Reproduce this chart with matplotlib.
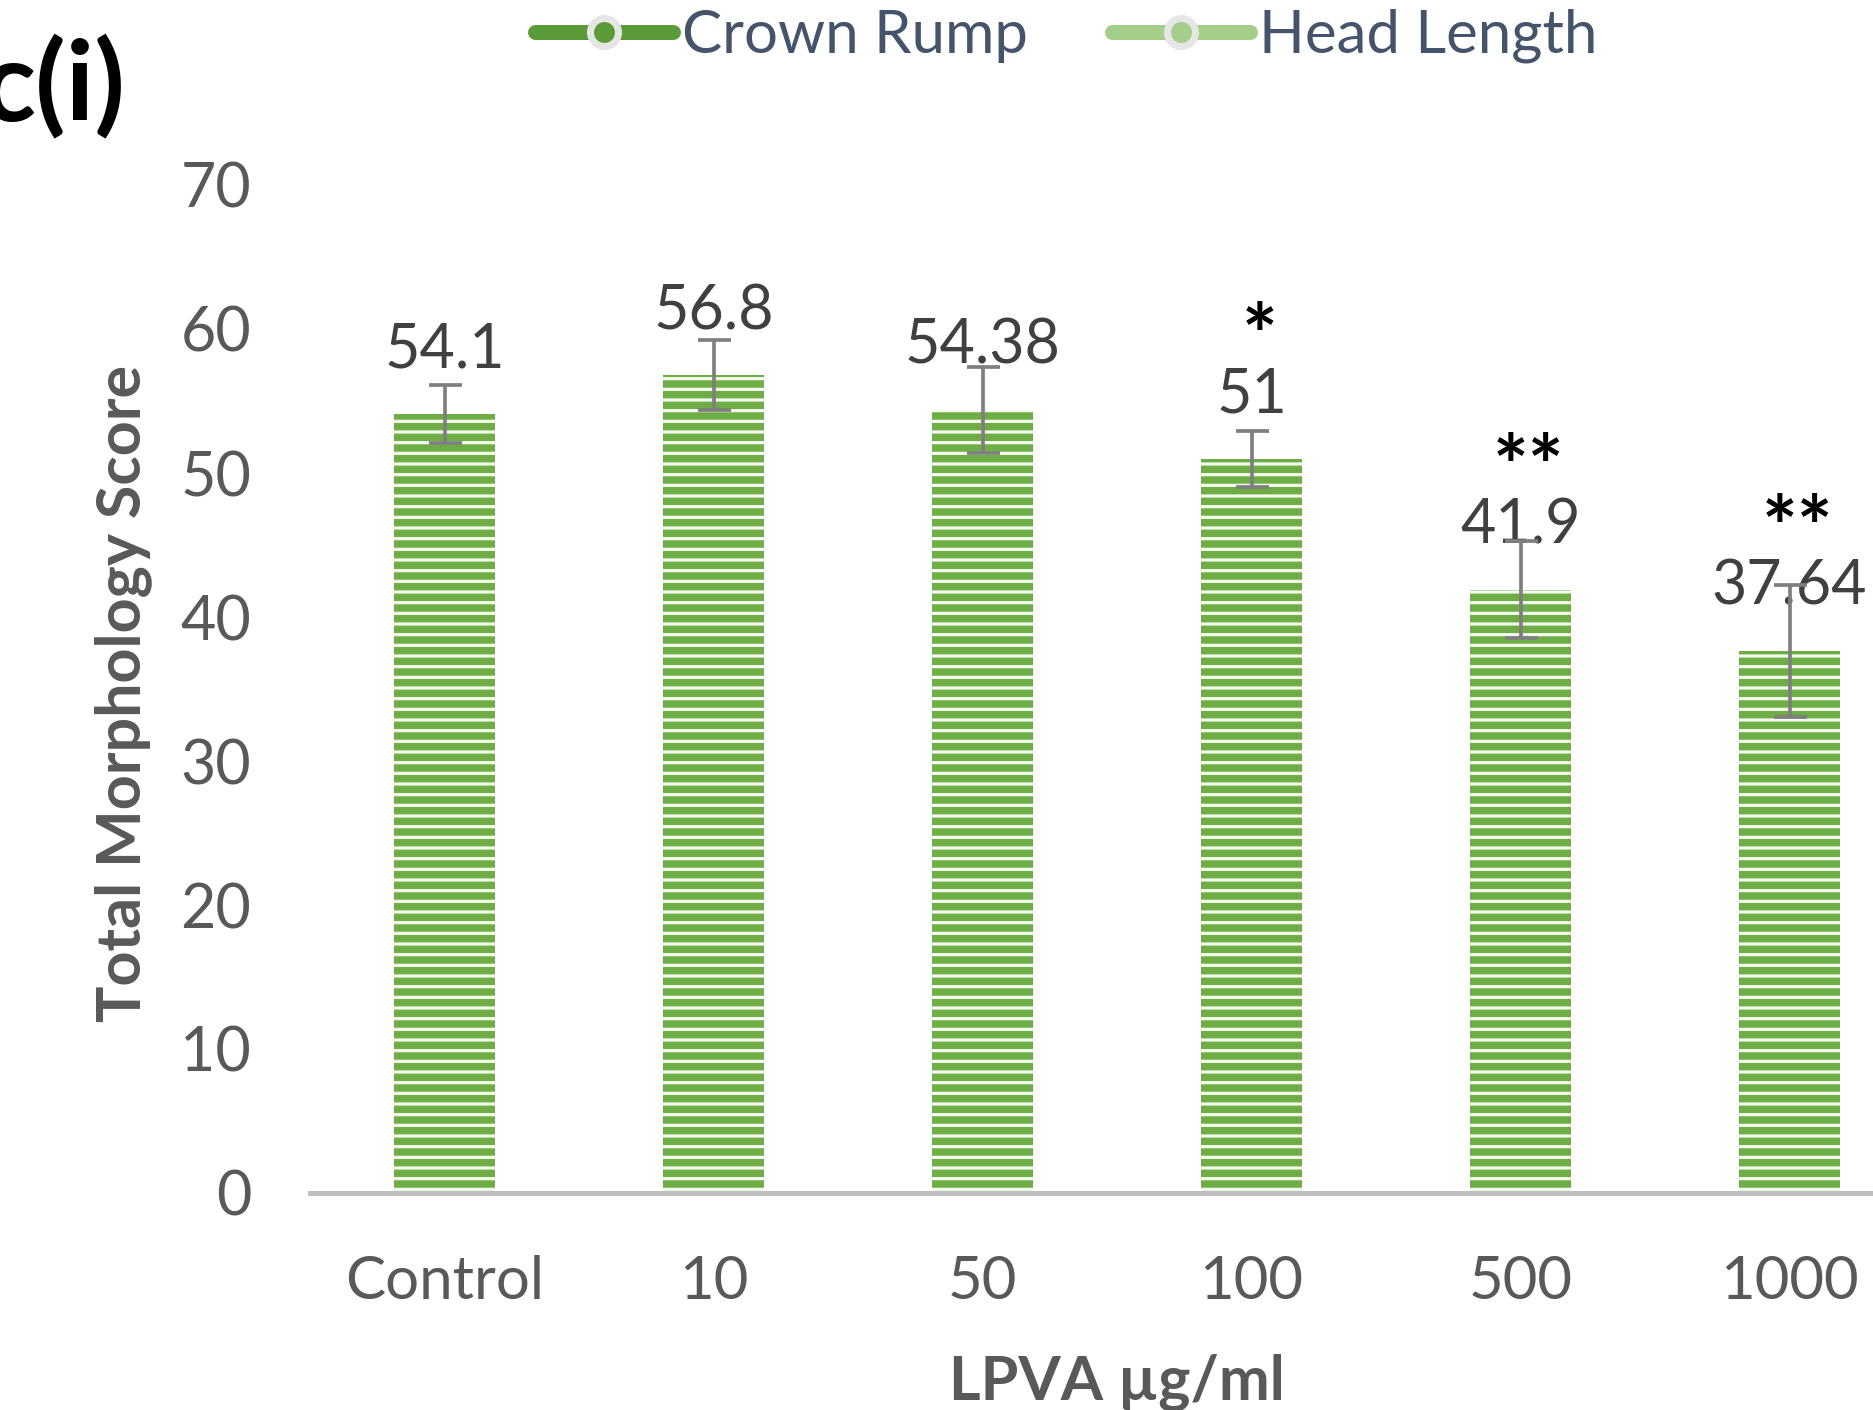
import matplotlib
matplotlib.use("Agg")
import matplotlib.pyplot as plt

# ---- data ----
categories = ["Control", "10", "50", "100", "500", "1000"]
scores = [54.1, 56.8, 54.38, 51, 41.9, 37.64]
score_labels = ["54.1", "56.8", "54.38", "51", "41.9", "37.64"]
errors = [2.0, 2.45, 3.0, 1.95, 3.35, 4.6]
stars = ["", "", "", "*", "**", "**"]
yticks = [0, 10, 20, 30, 40, 50, 60, 70]
legend_names = ["Crown Rump", "Head Length"]

# ---- styling ----
W, H = 1873, 1410
DPI = 128


def pt(px):
    return px * 72.0 / DPI


FAM = ["Lato", "DejaVu Sans"]
plt.rcParams["font.family"] = FAM
plt.rcParams["hatch.linewidth"] = pt(3.2)

fig = plt.figure(figsize=(W / DPI, H / DPI), dpi=DPI)
fig.patch.set_facecolor("white")

ax_left, ax_right = 310.0, 1924.0
ax_top, ax_bot = 185.0, 1193.0
ax = fig.add_axes([ax_left / W, 1 - ax_bot / H, (ax_right - ax_left) / W, (ax_bot - ax_top) / H])

x = list(range(len(categories)))
ax.bar(x, scores, width=0.372, color="#6DAD43", edgecolor="#F5FAF1",
       linewidth=0, hatch="--", zorder=1)
ax.errorbar(x, scores, yerr=errors, fmt="none", ecolor="#7F7F7F",
            elinewidth=pt(3.7), capsize=pt(16.5), capthick=pt(3.7), zorder=5)

for xi, v, lab, st in zip(x, scores, score_labels, stars):
    ax.annotate(lab, xy=(xi, v), xytext=(0, pt(46)), textcoords="offset points",
                ha="center", va="baseline", fontsize=pt(61), color="#404040", zorder=3)
    if st:
        ax.annotate(st, xy=(xi + 0.03, v), xytext=(0, pt(94)), textcoords="offset points",
                    ha="center", va="baseline", fontsize=pt(84), fontweight="bold",
                    color="black", zorder=3)

ax.set_xlim(-0.5, 5.5)
ax.set_ylim(0, 70)
ax.set_yticks(yticks)
ax.set_xticks(x)
ax.set_xticklabels(categories)
ax.tick_params(axis="y", length=0, pad=pt(59), labelsize=pt(61), labelcolor="#595959")
ax.tick_params(axis="x", length=0, pad=pt(62), labelsize=pt(60), labelcolor="#595959")
for s in ["top", "right", "left"]:
    ax.spines[s].set_visible(False)
ax.spines["bottom"].set_color("#BFBFBF")
ax.spines["bottom"].set_linewidth(pt(5))
ax.spines["bottom"].set_zorder(4)

# legend (series with no visible marks)
dark_green = "#5B9B37"
light_green = "#A4CE89"
for name, col in zip(legend_names, [dark_green, light_green]):
    ax.plot([], [], "-o", color=col, lw=pt(15), ms=pt(28), mec="#E6E6E6",
            mfc=col, mew=pt(7), solid_capstyle="round", label=name)
fig.legend(loc="center", bbox_to_anchor=(1066 / W, 1 - 36 / H), ncol=2, frameon=False,
           prop={"family": FAM, "size": pt(60)}, labelcolor="#44546A",
           handlelength=2.3, handletextpad=0.15, columnspacing=1.4)

fig.text(123 / W, 1 - 693 / H, "Total Morphology Score", rotation=90, ha="center", va="center",
         fontsize=pt(61), fontweight="bold", color="#595959")
fig.text(1117 / W, 1 - 1382 / H, "LPVA µg/ml", ha="center", va="center",
         fontsize=pt(61), fontweight="bold", color="#595959")
fig.text(125 / W, 1 - 87 / H, "c(i)", ha="right", va="center",
         fontsize=pt(112), fontweight="bold", color="black")

fig.savefig("out.png", dpi=DPI, facecolor="white")
